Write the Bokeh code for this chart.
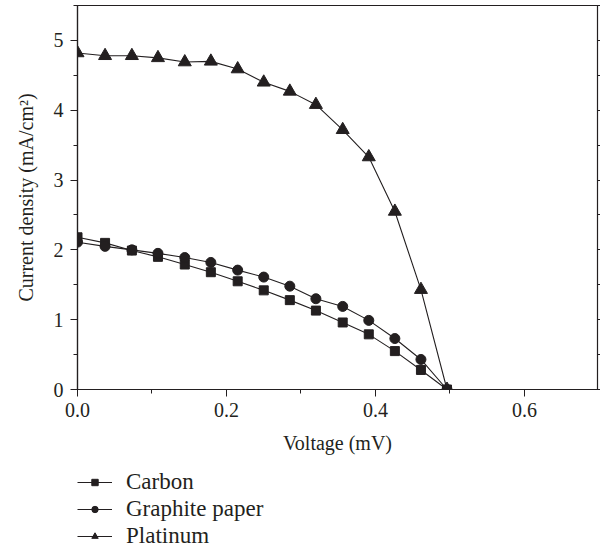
from bokeh.plotting import figure
from bokeh.layouts import column
from bokeh.models import Range1d, LinearAxis, Legend, LegendItem, SingleIntervalTicker, NumeralTickFormatter
from bokeh.embed import file_html
from bokeh.resources import INLINE

voltage = [0.0, 0.037, 0.073, 0.108, 0.144, 0.179, 0.215, 0.25, 0.285, 0.32, 0.356, 0.391, 0.426, 0.461, 0.496]
carbon = [2.18, 2.10, 1.99, 1.90, 1.79, 1.68, 1.55, 1.42, 1.28, 1.13, 0.96, 0.79, 0.55, 0.28, 0.0]
graphite = [2.11, 2.05, 2.00, 1.95, 1.89, 1.82, 1.71, 1.61, 1.48, 1.30, 1.19, 0.99, 0.73, 0.43, 0.0]
platinum = [4.82, 4.78, 4.78, 4.75, 4.69, 4.70, 4.59, 4.40, 4.27, 4.08, 3.72, 3.33, 2.55, 1.43, 0.0]
series_names = ["Carbon", "Graphite paper", "Platinum"]
markers = ["square", "circle", "triangle"]
x_label = "Voltage (mV)"
y_label = "Current density (mA/cm²)"

INK = "#231f20"
FONT = "Liberation Serif"
SIZES = {"square": 9, "circle": 10, "triangle": 13}
LEG_SIZES = {"square": 6, "circle": 7, "triangle": 9}

p = figure(width=600, height=466, output_backend="svg", toolbar_location=None,
           x_range=Range1d(0, 0.698), y_range=Range1d(0, 5.5),
           min_border_left=77, min_border_right=3, min_border_top=5, min_border_bottom=77)
p.grid.visible = False
p.outline_line_color = INK
p.outline_line_width = 1.2
p.background_fill_color = "white"
p.border_fill_color = "white"

for ax in (p.xaxis[0], p.yaxis[0]):
    ax.axis_line_color = INK
    ax.axis_line_width = 1.2
    ax.major_tick_line_color = INK
    ax.minor_tick_line_color = INK
    ax.major_tick_in = 0
    ax.major_tick_out = 7
    ax.minor_tick_in = 0
    ax.minor_tick_out = 4
    ax.major_label_text_font = FONT
    ax.major_label_text_font_size = "20px"
    ax.major_label_text_color = INK
    ax.axis_label_text_font = FONT
    ax.axis_label_text_font_size = "20px"
    ax.axis_label_text_font_style = "normal"
    ax.axis_label_text_color = INK

p.xaxis.ticker = SingleIntervalTicker(interval=0.2, num_minor_ticks=2)
p.xaxis.formatter = NumeralTickFormatter(format="0.0")
p.yaxis.ticker = SingleIntervalTicker(interval=1, num_minor_ticks=2)
p.xaxis.axis_label = x_label
p.yaxis.axis_label = y_label
p.xaxis.major_label_standoff = 6
p.yaxis.major_label_standoff = 7
p.xaxis.axis_label_standoff = 12
p.yaxis.axis_label_standoff = 14

right = LinearAxis(ticker=SingleIntervalTicker(interval=0.5, num_minor_ticks=0),
                   major_label_text_font_size="0px", major_label_standoff=0,
                   major_tick_in=0, major_tick_out=3,
                   minor_tick_out=0, axis_line_color=INK, major_tick_line_color=INK)
p.add_layout(right, "right")

series = [carbon, graphite, platinum]
for ys, mk in zip(series, markers):
    p.line(voltage, ys, line_color=INK, line_width=1.1)
    p.scatter(voltage, ys, marker=mk, size=SIZES[mk], fill_color=INK, line_color=INK)

# legend placed in a strip under the chart (its data sits outside this strip's view)
leg = figure(width=600, height=86, output_backend="svg", toolbar_location=None,
             x_axis_type=None, y_axis_type=None, x_range=Range1d(0, 1), y_range=Range1d(50, 51),
             min_border_left=0, min_border_right=0, min_border_top=0, min_border_bottom=0)
leg.grid.visible = False
leg.outline_line_color = None
leg.border_fill_color = "white"
leg.background_fill_color = "white"
items = []
for name, ys, mk in zip(series_names, series, markers):
    rl = leg.line(voltage, ys, line_color=INK, line_width=1.1)
    rs = leg.scatter(voltage, ys, marker=mk, size=LEG_SIZES[mk], fill_color=INK, line_color=INK)
    items.append(LegendItem(label=name, renderers=[rl, rs]))
legend = Legend(items=items, location=(0, 3), orientation="vertical",
                glyph_width=35, glyph_height=16, label_height=16, label_standoff=14,
                spacing=1, padding=0, margin=0,
                label_text_font=FONT, label_text_font_size="23px", label_text_color=INK,
                border_line_color=None, background_fill_alpha=0)
leg.add_layout(legend, "center")

open("out.html", "w").write(file_html(column(p, leg, spacing=0), INLINE))
